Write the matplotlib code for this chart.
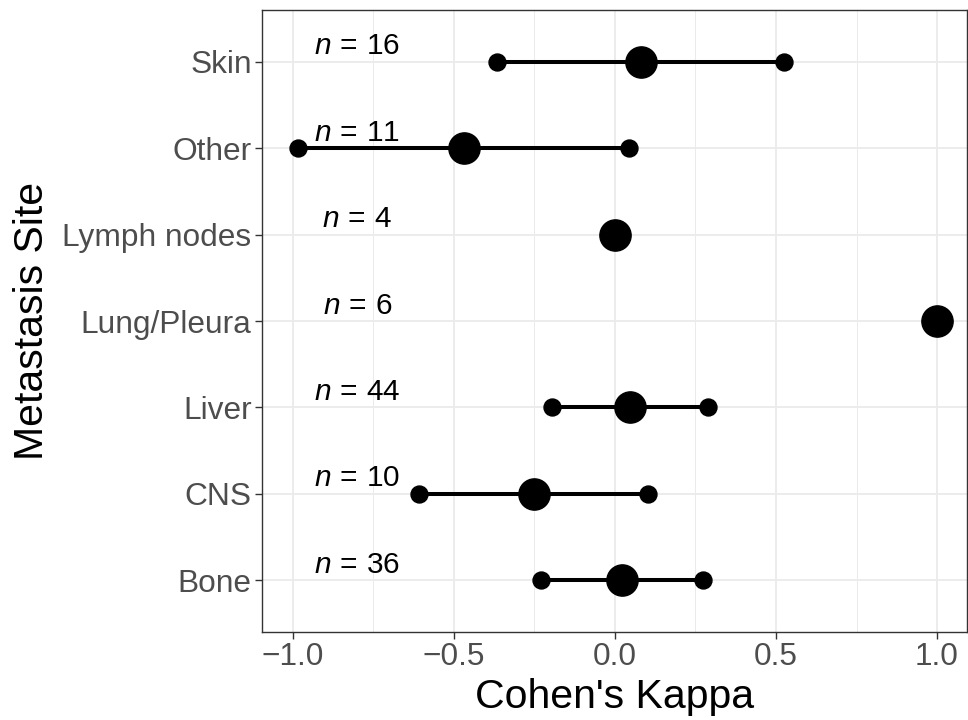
import matplotlib
matplotlib.use("Agg")
import matplotlib.pyplot as plt
from matplotlib.ticker import MultipleLocator

plt.rcParams['font.family'] = ['Liberation Sans', 'DejaVu Sans']
plt.rcParams['mathtext.fontset'] = 'custom'
plt.rcParams['mathtext.rm'] = 'Liberation Sans'
plt.rcParams['mathtext.it'] = 'Liberation Sans:italic'

# Metastasis sites, bottom to top
sites = ['Bone', 'CNS', 'Liver', 'Lung/Pleura', 'Lymph nodes', 'Other', 'Skin']
kappa = [0.021, -0.251, 0.047, 1.0, 0.0, -0.469, 0.08]
ci_low = [-0.231, -0.609, -0.195, None, None, -0.983, -0.367]
ci_high = [0.272, 0.104, 0.29, None, None, 0.044, 0.526]
n_obs = [36, 10, 44, 6, 4, 11, 16]

fig = plt.figure(figsize=(9.68, 7.2), dpi=100)
ax = fig.add_axes([262 / 968, 1 - 632 / 720, 705 / 968, 622 / 720])

ypos = list(range(1, len(sites) + 1))

# grid like theme_bw
ax.set_axisbelow(True)
ax.xaxis.set_major_locator(MultipleLocator(0.5))
ax.xaxis.set_minor_locator(MultipleLocator(0.25))
ax.grid(which='major', color='#EBEBEB', linewidth=1.3)
ax.grid(which='minor', axis='x', color='#EBEBEB', linewidth=0.7)

for y, k, lo, hi, n in zip(ypos, kappa, ci_low, ci_high, n_obs):
    if lo is not None:
        ax.plot([lo, hi], [y, y], color='black', linewidth=2.9, solid_capstyle='butt', zorder=2)
        ax.plot([lo, hi], [y, y], 'o', color='black', markersize=12.2, zorder=3)
    ax.plot(k, y, 'o', color='black', markersize=22.5, zorder=4)
    ax.text(-0.8, y + 0.085, rf'$n\,=\,{n}$', ha='center', va='baseline',
            fontsize=21.5, color='black')

ax.set_xlim(-1.096, 1.093)
ax.set_ylim(0.4, 7.6)
ax.set_yticks(ypos)
ax.set_yticklabels(sites)
ax.set_xticks([-1.0, -0.5, 0.0, 0.5, 1.0])
ax.set_xticklabels(['\u22121.0', '\u22120.5', '0.0', '0.5', '1.0'])

ax.tick_params(which='major', length=5, width=1.0, color='#333333',
               labelsize=22.8, labelcolor='#4D4D4D', pad=2.5)
ax.tick_params(which='minor', length=0)

for sp in ax.spines.values():
    sp.set_color('#333333')
    sp.set_linewidth(1.0)

ax.set_xlabel("Cohen's Kappa", fontsize=29.5, color='black', labelpad=4)
ax.set_ylabel('Metastasis Site', fontsize=29.5, color='black', labelpad=8)

fig.savefig('out.png', dpi=100)
